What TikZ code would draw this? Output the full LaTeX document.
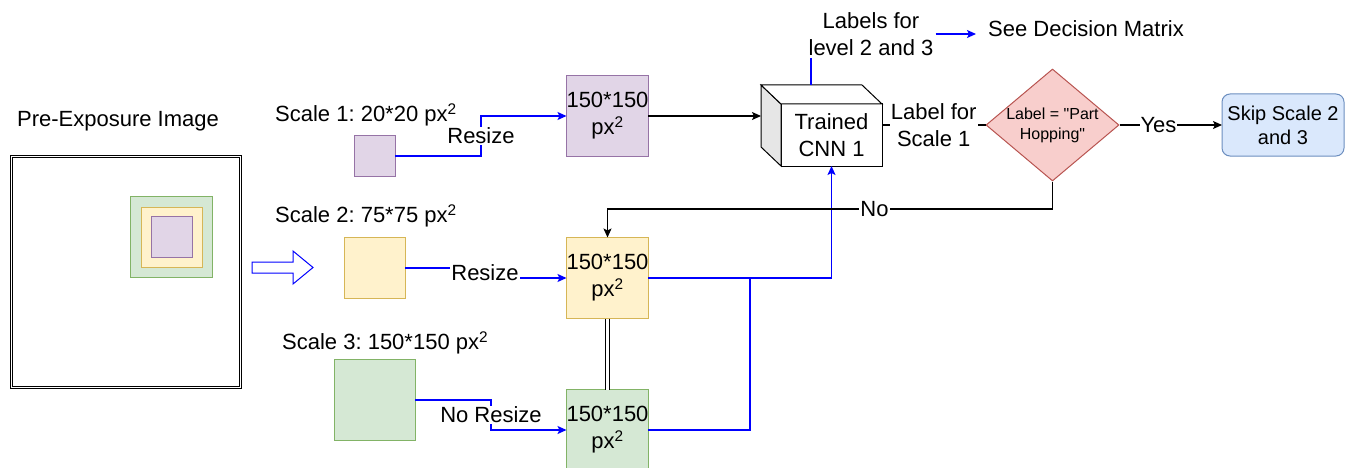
\documentclass[tikz,border=0pt]{standalone}
\usepackage{fontspec}
\setmainfont{Liberation Sans}
\newfontfamily\dfont{Liberation Sans}[Ligatures=TeXOff]
\usetikzlibrary{shapes.geometric,arrows.meta,calc}
\definecolor{pfill}{HTML}{E1D5E7}\definecolor{pdraw}{HTML}{9673A6}
\definecolor{yfill}{HTML}{FFF2CC}\definecolor{ydraw}{HTML}{D6B656}
\definecolor{gfill}{HTML}{D5E8D4}\definecolor{gdraw}{HTML}{82B366}
\definecolor{rfill}{HTML}{F8CECC}\definecolor{rdraw}{HTML}{B85450}
\definecolor{bfill}{HTML}{DAE8FC}\definecolor{bdraw}{HTML}{6C8EBF}
\definecolor{cubegray}{HTML}{E6E6E6}
\frenchspacing
\begin{document}
\begin{tikzpicture}[x=1pt,y=-1pt,font=\fontsize{22}{27}\selectfont,
  box/.style={draw,line width=1pt,inner sep=0pt,outer sep=0pt,align=center},
  pbox/.style={box,fill=pfill,draw=pdraw},
  ybox/.style={box,fill=yfill,draw=ydraw},
  gbox/.style={box,fill=gfill,draw=gdraw},
  lab/.style={fill=white,inner sep=1pt,align=center},
  bl/.style={draw=blue,line width=1.3pt},
  bk/.style={draw=black,line width=1.2pt},
  tip/.style={-{Stealth[length=9pt,width=8pt,inset=2pt]}}]
\useasboundingbox (0,0) rectangle (1349,468);

% pre-exposure image
\node (pretitle) at (118,121) {Pre-Exposure Image};
\node[draw,double,double distance=1.5pt,line width=0.9pt,minimum width=229,minimum height=231,inner sep=0pt] (img) at (126,272) {};
\node[gbox,minimum width=82,minimum height=81] (ig) at (171,236.5) {};
\node[ybox,minimum width=61,minimum height=60] (iy) at (171.5,237) {};
\node[pbox,minimum width=41,minimum height=41] (ip) at (171.5,236.5) {};
\draw[blue,fill=white,line width=1pt] (252,262) -- (293,262) -- (293,251) -- (313,267.5) -- (293,284) -- (293,273) -- (252,273) -- cycle;

% scale labels and small squares
\node[anchor=west,inner sep=0pt] (sc1) at (275,115) {Scale 1: 20*20 px\textsuperscript{2}};
\node[anchor=west,inner sep=0pt] (sc2) at (275,216) {Scale 2: 75*75 px\textsuperscript{2}};
\node[anchor=west,inner sep=0pt] (sc3) at (282,343) {Scale 3: 150*150 px\textsuperscript{2}};
\node[pbox,minimum width=41,minimum height=41] (s1) at (374.5,156) {};
\node[ybox,minimum width=61,minimum height=61] (s2) at (374.5,268) {};
\node[gbox,minimum width=81,minimum height=81] (s3) at (374.5,400) {};

% resized boxes
\node[pbox,minimum width=81,minimum height=81] (b1) at (607.5,116) {150*150\\px\textsuperscript{2}};
\node[ybox,minimum width=81,minimum height=81] (b2) at (607.5,278) {150*150\\px\textsuperscript{2}};
\node[gbox,minimum width=81,minimum height=81] (b3) at (607.5,430) {150*150\\px\textsuperscript{2}};

% CNN cube
\node[box,fill=white,minimum width=101,minimum height=62] (cnn) at (831.5,135) {Trained\\CNN 1};
\draw[line width=1pt,fill=cubegray] (cnn.north west) -- ++(-20,-19) -- ++(0,62) -- (cnn.south west) -- cycle;
\draw[line width=1pt,fill=white] (cnn.north west) -- ++(-20,-19) -- ++(101,0) -- (cnn.north east) -- cycle;
\coordinate (cubeback) at ($(cnn.north west)+(-20,-19)$);
\coordinate (cubetop) at ($(cnn.north west)+(30,-19)$);

% decision
\node[diamond,draw=rdraw,fill=rfill,line width=1pt,minimum width=133,minimum height=112,inner sep=0pt] (dec) at (1052.5,125) {};
\node[font=\dfont\fontsize{16}{20}\selectfont,align=center,inner sep=0pt] (dect) at (dec.center) {Label = "Part\\Hopping"};
\node[box,draw=bdraw,fill=bfill,rounded corners=8pt,minimum width=122,minimum height=62,font=\fontsize{20}{24}\selectfont] (skip) at (1283,125) {Skip Scale 2\\and 3};

% top labels
\node[align=center,inner sep=2pt] (lbl23) at (871,34) {Labels for\\level 2 and 3};
\node[anchor=west,inner xsep=12pt,inner ysep=0pt] (see) at (976,29) {See Decision Matrix};

% connectors
\coordinate (c1) at (481,116);
\coordinate (c2) at (485,278);
\coordinate (c3) at (491,430);
\coordinate (nob) at (607.5,209);
\coordinate (j) at (750,278);

\draw[bl,tip] (s1.east) -| node[lab,pos=0.75]{Resize} (c1) -- (b1.west);
\draw[bl,tip] (s2.east) -| node[lab,pos=0.75]{Resize} (c2) -- (b2.west);
\draw[bl,tip] (s3.east) -| node[lab,pos=0.75]{No Resize} (c3) -- (b3.west);
\draw[bk,tip] (b1.east) -- (b1.east -| cubeback);
\draw[bl,tip] (b2.east) -| (cnn.south);
\draw[bl] (b3.east) -| (j);
\draw[double,line width=1pt,double distance=2.5pt] (b2.south) -- (b3.north);
\draw[bl] (cubetop) -- (cubetop |- lbl23.south);
\draw[bl,tip] (lbl23.east) -- (lbl23.east -| see.west);
\draw[bk] (dec.west -| cnn.east) -- node[lab]{Label for\\Scale 1} (dec.west);
\draw[bk,tip] (dec.east) -- node[lab,pos=0.38]{Yes} (skip.west);
\draw[bk,tip] (dec.south) |- node[lab,pos=0.7]{No} (nob) -- (b2.north);
\end{tikzpicture}
\end{document}
